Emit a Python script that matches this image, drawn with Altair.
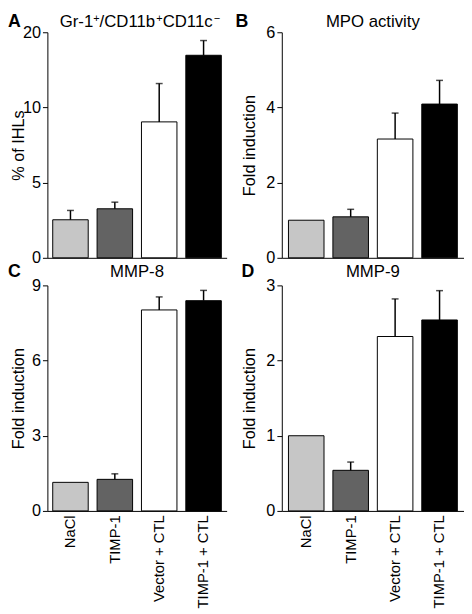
import altair as alt
import pandas as pd

CATS = ["NaCl", "TIMP-1", "Vector + CTL", "TIMP-1 + CTL"]
COLORS = ["#c6c6c6", "#636363", "#ffffff", "#000000"]

# Panel A
A_VAL = [2.53, 3.26, 9.04, 13.47]
A_ERR = [3.15, 3.70, 11.59, 14.45]
A_TICKS = [0, 5, 10, 15]
A_TICK_LABELS = ["0", "5", "10", "20"]
# title pieces: (text, is_superscript)
A_TITLE = [("Gr-1", False), ("+", True), ("/CD11b", False), ("+", True),
           ("CD11c", False), ("\u2212", True)]

# Panel B
B_VAL = [1.0, 1.09, 3.16, 4.09]
B_ERR = [None, 1.29, 3.85, 4.72]
B_TICKS = [0, 2, 4, 6]
B_TICK_LABELS = ["0", "2", "4", "6"]
B_TITLE = [("MPO activity", False)]

# Panel C
C_VAL = [1.14, 1.26, 8.02, 8.39]
C_ERR = [None, 1.48, 8.54, 8.80]
C_TICKS = [0, 3, 6, 9]
C_TICK_LABELS = ["0", "3", "6", "9"]
C_TITLE = [("MMP-8", False)]

# Panel D
D_VAL = [1.0, 0.54, 2.32, 2.54]
D_ERR = [None, 0.65, 2.82, 2.93]
D_TICKS = [0, 1, 2, 3]
D_TICK_LABELS = ["0", "1", "2", "3"]
D_TITLE = [("MMP-9", False)]

FONT = "Liberation Sans"
H = 229
TITLE_FS = 17
SUP_FS = 11
SUP_RAISE = 5

# Arial / Liberation Sans advance widths (per 1000 em)
WIDTHS = {"G": 778, "r": 333, "-": 333, "1": 556, "/": 278, "C": 722, "D": 722,
          "b": 556, "c": 500, "+": 584, "\u2212": 584, "M": 833, "P": 667, "O": 778,
          " ": 278, "a": 556, "t": 278, "i": 222, "v": 500, "y": 500, "8": 556, "9": 556}


def text_width(s, fs):
    return sum(WIDTHS.get(ch, 556) for ch in s) * fs / 1000.0


def title_layers(parts, width, top_y, shift):
    sizes = [SUP_FS if sup else TITLE_FS for _, sup in parts]
    total = sum(text_width(t, fs) for (t, _), fs in zip(parts, sizes))
    x = (width - total) / 2 + shift
    base_line = top_y + 0.79 * TITLE_FS
    layers = []
    for (t, sup), fs in zip(parts, sizes):
        y = base_line - SUP_RAISE - 0.79 * fs if sup else top_y
        layers.append(
            alt.Chart(pd.DataFrame({"t": [t]})).mark_text(
                fontSize=fs, align="left", baseline="top", font=FONT, color="black",
            ).encode(text="t:N", x=alt.value(x), y=alt.value(y))
        )
        x += text_width(t, fs)
    return layers


def panel(letter, parts, ytitle, vals, errs, ticks, tick_labels, show_x,
          width, title_x, letter_x, letter_y, title_y, po, shift=0):
    df = pd.DataFrame({"cat": CATS, "val": vals, "err": errs})
    expr = " : ".join(f"datum.value == {t} ? '{l}'" for t, l in zip(ticks, tick_labels)) + " : datum.label"
    xaxis = alt.Axis(
        title="", ticks=False, labels=show_x, labelAngle=-90, labelFontSize=15,
        labelPadding=4, domainColor="black", labelColor="black", labelFont=FONT,
    )
    xenc = alt.X("cat:N", sort=CATS,
                 scale=alt.Scale(paddingInner=0.2, paddingOuter=po), axis=xaxis)
    yscale = alt.Scale(domain=[0, ticks[-1]], nice=False, zero=True)
    yaxis = alt.Axis(
        title=ytitle, values=ticks, labelExpr=expr, grid=False, tickSize=5,
        labelPadding=2, labelFontSize=16.5, titleFontSize=16.5, titleFontWeight="normal",
        titleX=title_x, titleY=H / 2, titleAngle=270, titleBaseline="alphabetic",
        titleAlign="center",
        domainColor="black", tickColor="black",
        labelColor="black", titleColor="black", labelFont=FONT, titleFont=FONT,
    )
    base = alt.Chart(df)
    bars = base.mark_bar(stroke="black", strokeWidth=1).encode(
        x=xenc,
        y=alt.Y("val:Q", scale=yscale, axis=yaxis),
        fill=alt.Fill("cat:N", scale=alt.Scale(domain=CATS, range=COLORS), legend=None),
    )
    errbase = base.transform_filter("isValid(datum.err)")
    rule = errbase.mark_rule(color="black", strokeWidth=1.5).encode(
        x=xenc,
        y=alt.Y("val:Q", scale=yscale, axis=yaxis),
        y2="err:Q",
    )
    cap = errbase.mark_tick(orient="horizontal", size=7, thickness=1.5, color="black").encode(
        x=xenc,
        y=alt.Y("err:Q", scale=yscale, axis=yaxis),
    )
    let = alt.Chart(pd.DataFrame({"t": [letter]})).mark_text(
        fontSize=18, fontWeight="bold", align="left", baseline="top",
        font=FONT, color="black",
    ).encode(text="t:N", x=alt.value(letter_x), y=alt.value(letter_y))
    ttl = title_layers(parts, width, title_y, shift)
    return alt.layer(bars, rule, cap, let, *ttl).properties(width=width, height=H)


pA = panel("A", A_TITLE, "% of IHLs", A_VAL, A_ERR, A_TICKS, A_TICK_LABELS,
           False, 182, -24, -40, -19, -18.7, 0.12, shift=3)
pB = panel("B", B_TITLE, "Fold induction", B_VAL, B_ERR, B_TICKS, B_TICK_LABELS,
           False, 185, -28, -47, -19, -18.7, 0.15)
pC = panel("C", C_TITLE, "Fold induction", C_VAL, C_ERR, C_TICKS, C_TICK_LABELS,
           True, 182, -24, -40, -23, -21.5, 0.12)
pD = panel("D", D_TITLE, "Fold induction", D_VAL, D_ERR, D_TICKS, D_TICK_LABELS,
           True, 185, -28, -41, -23, -21.5, 0.15)

chart = alt.concat(
    pA, pB, pC, pD, columns=2, spacing={"row": 28, "column": 56}, bounds="flush"
).properties(
    padding=0
).configure(font=FONT).configure_view(strokeWidth=0)

chart.save("out.html", embed_options={"renderer": "svg", "actions": False})
